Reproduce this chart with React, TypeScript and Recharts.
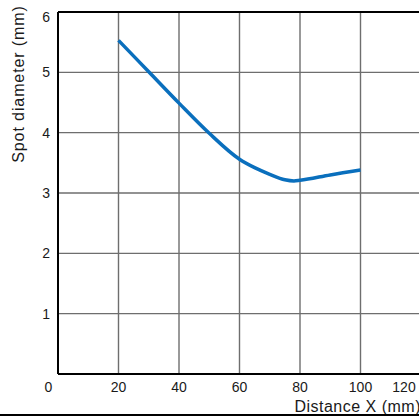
import { LineChart, Line, XAxis, YAxis, CartesianGrid, ReferenceLine, Label } from 'recharts'

// Spot diameter vs. distance
const distance = [20, 30, 40, 50, 60, 65, 70, 75, 78, 80, 90, 100]
const spotDiameter = [5.53, 5.01, 4.49, 3.99, 3.56, 3.42, 3.31, 3.22, 3.2, 3.21, 3.3, 3.38]
const xTicks = [0, 20, 40, 60, 80, 100, 120]
const yTicks = [1, 2, 3, 4, 5, 6]

const FONT = '"Liberation Sans", Arial, Helvetica, sans-serif'

const chartData = distance.map((d, i) => ({ x: d, y: spotDiameter[i] }))

function XTick(props: any) {
  const { x, y, payload } = props
  // outer labels are pulled inward like in the original
  let tx = x
  if (payload.value === 0) tx = x - 9.5
  if (payload.value === 120) tx = x - 17
  return (
    <text x={tx} y={y} dy={10} textAnchor="middle" fontSize={14} fill="#1a1a1a" fontFamily={FONT}>
      {payload.value}
    </text>
  )
}

function YTick(props: any) {
  const { x, y, payload } = props
  const ty = payload.value === 6 ? y + 4.5 : y
  return (
    <text x={x} y={ty} dy={5} textAnchor="end" fontSize={14} fill="#1a1a1a" fontFamily={FONT}>
      {payload.value}
    </text>
  )
}

export default function App() {
  return (
    <div style={{ position: 'fixed', left: 0, top: 0, width: 419, height: 417, overflow: 'hidden', background: '#fff' }}>
      <LineChart
        width={430}
        height={417}
        data={chartData}
        margin={{ top: 12, right: 9, left: 0, bottom: 0 }}
      >
        <CartesianGrid stroke="#6e6e6e" strokeWidth={1.4} />
        <XAxis
          type="number"
          dataKey="x"
          domain={[0, 120]}
          ticks={xTicks}
          height={43}
          tickLine={false}
          axisLine={{ stroke: '#000', strokeWidth: 2 }}
          tick={<XTick />}
          interval={0}
        >
          <Label
            value="Distance X (mm)"
            position="insideBottomRight"
            offset={0}
            dy={-5}
            fontSize={16}
            letterSpacing={0.5}
            fill="#1a1a1a"
            fontFamily={FONT}
          />
        </XAxis>
        <YAxis
          type="number"
          domain={[0, 6]}
          ticks={yTicks}
          width={58}
          tickLine={false}
          axisLine={{ stroke: '#000', strokeWidth: 2 }}
          tick={<YTick />}
          interval={0}
        >
          <Label
            content={() => (
              <text
                transform="translate(24,84) rotate(-90)"
                textAnchor="middle"
                fontSize={16}
                letterSpacing={0.9}
                fill="#1a1a1a"
                fontFamily={FONT}
              >
                Spot diameter (mm)
              </text>
            )}
          />
        </YAxis>
        <ReferenceLine y={6} stroke="#000" strokeWidth={2} />
        <Line
          type="monotone"
          dataKey="y"
          stroke="#0a6fbd"
          strokeWidth={3.5}
          dot={false}
          isAnimationActive={false}
        />
      </LineChart>
      <div style={{ position: 'absolute', left: 0, top: 414, width: 419, height: 2, background: '#000' }} />
    </div>
  )
}
